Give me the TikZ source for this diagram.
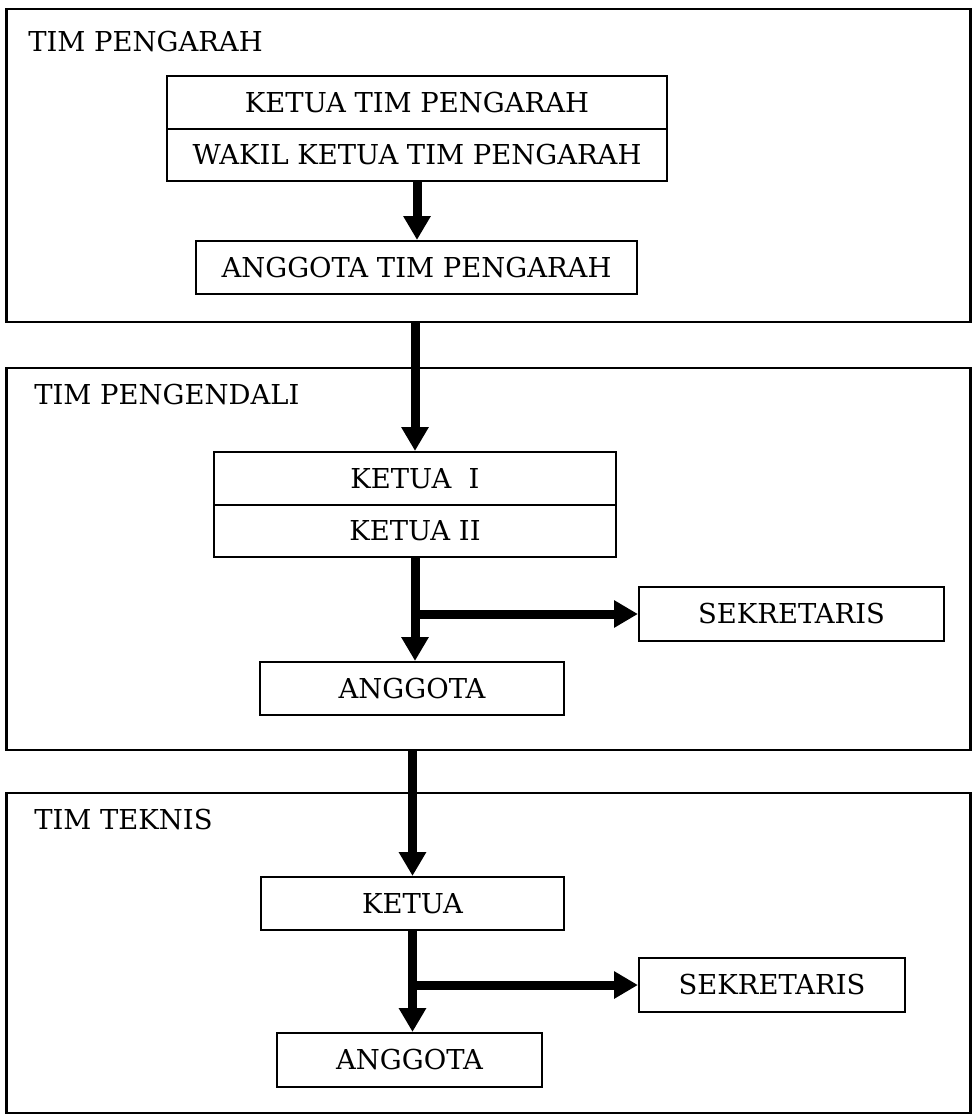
\documentclass[tikz,border=0pt]{standalone}
\usepackage{fontspec}
\setmainfont{DejaVu Serif}
\usetikzlibrary{arrows.meta}
\begin{document}
\begin{tikzpicture}[x=0.025cm,y=-0.025cm,
  box/.style={draw=black, line width=1.5pt, inner sep=0pt, align=center, font=\fontsize{19.5}{23}\selectfont},
  panel/.style={draw=black, line width=2pt, inner sep=0pt},
  paneltitle/.style={anchor=west, inner sep=0pt, font=\fontsize{19.5}{23}\selectfont},
  arr/.style={line width=6.4pt, -{Triangle[length=17pt,width=18.5pt]}}]
\fill[white] (0,0) rectangle (972,1116);
\useasboundingbox (0,0) rectangle (972,1116);
% panels
\node[panel, minimum width=24.075cm, minimum height=7.825cm] (p1) at (488.5,165.5) {};
\node[panel, minimum width=24.075cm, minimum height=9.55cm] (p2) at (488.5,559) {};
\node[panel, minimum width=24.075cm, minimum height=8cm] (p3) at (488.5,953) {};
\node[paneltitle] (t1) at (28,42) {TIM PENGARAH};
\node[paneltitle] (t2) at (34,395) {TIM PENGENDALI};
\node[paneltitle] (t3) at (34,820) {TIM TEKNIS};
% TIM PENGARAH
\node[box, minimum width=12.5cm, minimum height=1.325cm] (kt) at (417,102.5) {KETUA TIM PENGARAH};
\node[box, minimum width=12.5cm, minimum height=1.3cm] (kw) at (417,155) {WAKIL KETUA TIM PENGARAH};
\node[box, minimum width=11.025cm, minimum height=1.325cm] (atp) at (416.5,267.5) {ANGGOTA TIM PENGARAH};
% TIM PENGENDALI
\node[box, minimum width=10.05cm, minimum height=1.325cm] (k1) at (415,478.5) {KETUA\ \ I};
\node[box, minimum width=10.05cm, minimum height=1.3cm] (k2) at (415,531) {KETUA II};
\node[box, minimum width=7.625cm, minimum height=1.35cm] (s2) at (791.5,614) {SEKRETARIS};
\node[box, minimum width=7.6cm, minimum height=1.325cm] (a2) at (412,688.5) {ANGGOTA};
% TIM TEKNIS
\node[box, minimum width=7.575cm, minimum height=1.325cm] (k3) at (412.5,903.5) {KETUA};
\node[box, minimum width=6.65cm, minimum height=1.35cm] (s3) at (772,985) {SEKRETARIS};
\node[box, minimum width=6.625cm, minimum height=1.35cm] (a3) at (409.5,1060) {ANGGOTA};
% connectors
\draw[arr] (kw.south) -- (kw.south |- atp.north);
\draw[arr] (p1.south -| k1.north) -- (k1.north);
\draw[arr] (k2.south) -- (k2.south |- a2.north);
\draw[arr] (k2.south |- s2.west) -- (s2.west);
\draw[arr] (p2.south -| k3.north) -- (k3.north);
\draw[arr] (k3.south) -- (k3.south |- a3.north);
\draw[arr] (k3.south |- s3.west) -- (s3.west);
\end{tikzpicture}
\end{document}
